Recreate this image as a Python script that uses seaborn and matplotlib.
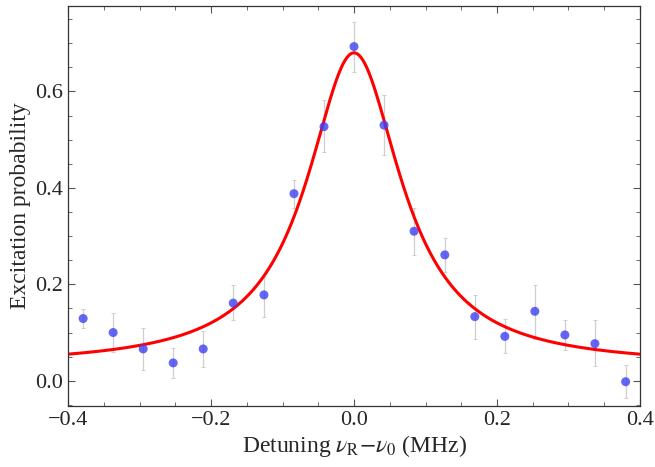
import numpy as np
import pandas as pd
import matplotlib
matplotlib.use("Agg")
import matplotlib.pyplot as plt
import seaborn as sns
from matplotlib.ticker import MultipleLocator

# datos medidos (detuning en MHz, probabilidad de excitacion)
detuning = [-0.379, -0.337, -0.295, -0.253, -0.211, -0.169, -0.126, -0.084, -0.042, 0.0,
            0.042, 0.084, 0.127, 0.169, 0.211, 0.253, 0.295, 0.337, 0.380]
prob = [0.129, 0.100, 0.066, 0.037, 0.066, 0.161, 0.178, 0.388, 0.527, 0.693,
        0.530, 0.310, 0.261, 0.133, 0.092, 0.144, 0.095, 0.077, -0.002]
err_low = [0.109, 0.059, 0.022, 0.006, 0.028, 0.125, 0.132, 0.358, 0.474, 0.640,
           0.468, 0.260, 0.225, 0.086, 0.057, 0.086, 0.064, 0.030, -0.035]
err_high = [0.148, 0.141, 0.109, 0.068, 0.103, 0.198, 0.216, 0.416, 0.582, 0.745,
            0.592, 0.358, 0.296, 0.178, 0.128, 0.199, 0.126, 0.126, 0.033]

# parametros del ajuste lorentziano
fit_amp = 0.65
fit_center = 0.0
fit_hwhm = 0.0802
fit_offset = 0.03

df = pd.DataFrame({"x": detuning, "y": prob, "lo": err_low, "hi": err_high})
xfit = np.linspace(-0.4, 0.4, 600)
yfit = fit_offset + fit_amp * fit_hwhm**2 / ((xfit - fit_center)**2 + fit_hwhm**2)
dfFit = pd.DataFrame({"x": xfit, "y": yfit})

sns.set_style("ticks")
plt.rcParams["font.family"] = ["Liberation Serif", "DejaVu Serif"]
plt.rcParams["mathtext.fontset"] = "stix"

fig, ax = plt.subplots(figsize=(6.55, 4.67), dpi=100)
fig.subplots_adjust(left=0.104, right=0.977, top=0.987, bottom=0.131)

# barras de error
eb = ax.errorbar(df["x"], df["y"], yerr=[df["y"] - df["lo"], df["hi"] - df["y"]],
                 fmt="none", ecolor="#cfcfcf", elinewidth=0.9, capsize=1.5, capthick=0.7, zorder=1)
for cap in eb[1]:
    cap.set_color("#8a8a8a")

sns.lineplot(data=dfFit, x="x", y="y", color="red", linewidth=2.2, ax=ax, zorder=2)
sns.scatterplot(data=df, x="x", y="y", color=(0.25, 0.25, 0.95), alpha=0.8, s=42,
                edgecolor="none", ax=ax, zorder=3)

ax.set_xlim(-0.4, 0.4)
ax.set_ylim(-0.052, 0.777)
ax.xaxis.set_major_locator(MultipleLocator(0.2))
ax.xaxis.set_minor_locator(MultipleLocator(0.05))
ax.yaxis.set_major_locator(MultipleLocator(0.2))
ax.yaxis.set_minor_locator(MultipleLocator(0.05))
ax.xaxis.set_major_formatter(plt.FuncFormatter(lambda v, p: f"{v:.1f}".replace("-", "\u2212")))
ax.yaxis.set_major_formatter(plt.FuncFormatter(lambda v, p: f"{v:.1f}".replace("-", "\u2212")))
ax.tick_params(which="both", direction="in", top=True, right=True, color="#555555", labelsize=16)
ax.tick_params(which="major", length=5, width=0.8, pad=4)
ax.tick_params(which="minor", length=3, width=0.6)
for s in ax.spines.values():
    s.set_color("#333333")
    s.set_linewidth(0.9)

ax.set_xlabel(r"Detuning $\nu_{\mathrm{R}}$$-$$\nu_0$ (MHz)", fontsize=17, labelpad=2)
ax.set_ylabel("Excitation probability", fontsize=17, labelpad=3)

plt.savefig("out.png", dpi=100)
